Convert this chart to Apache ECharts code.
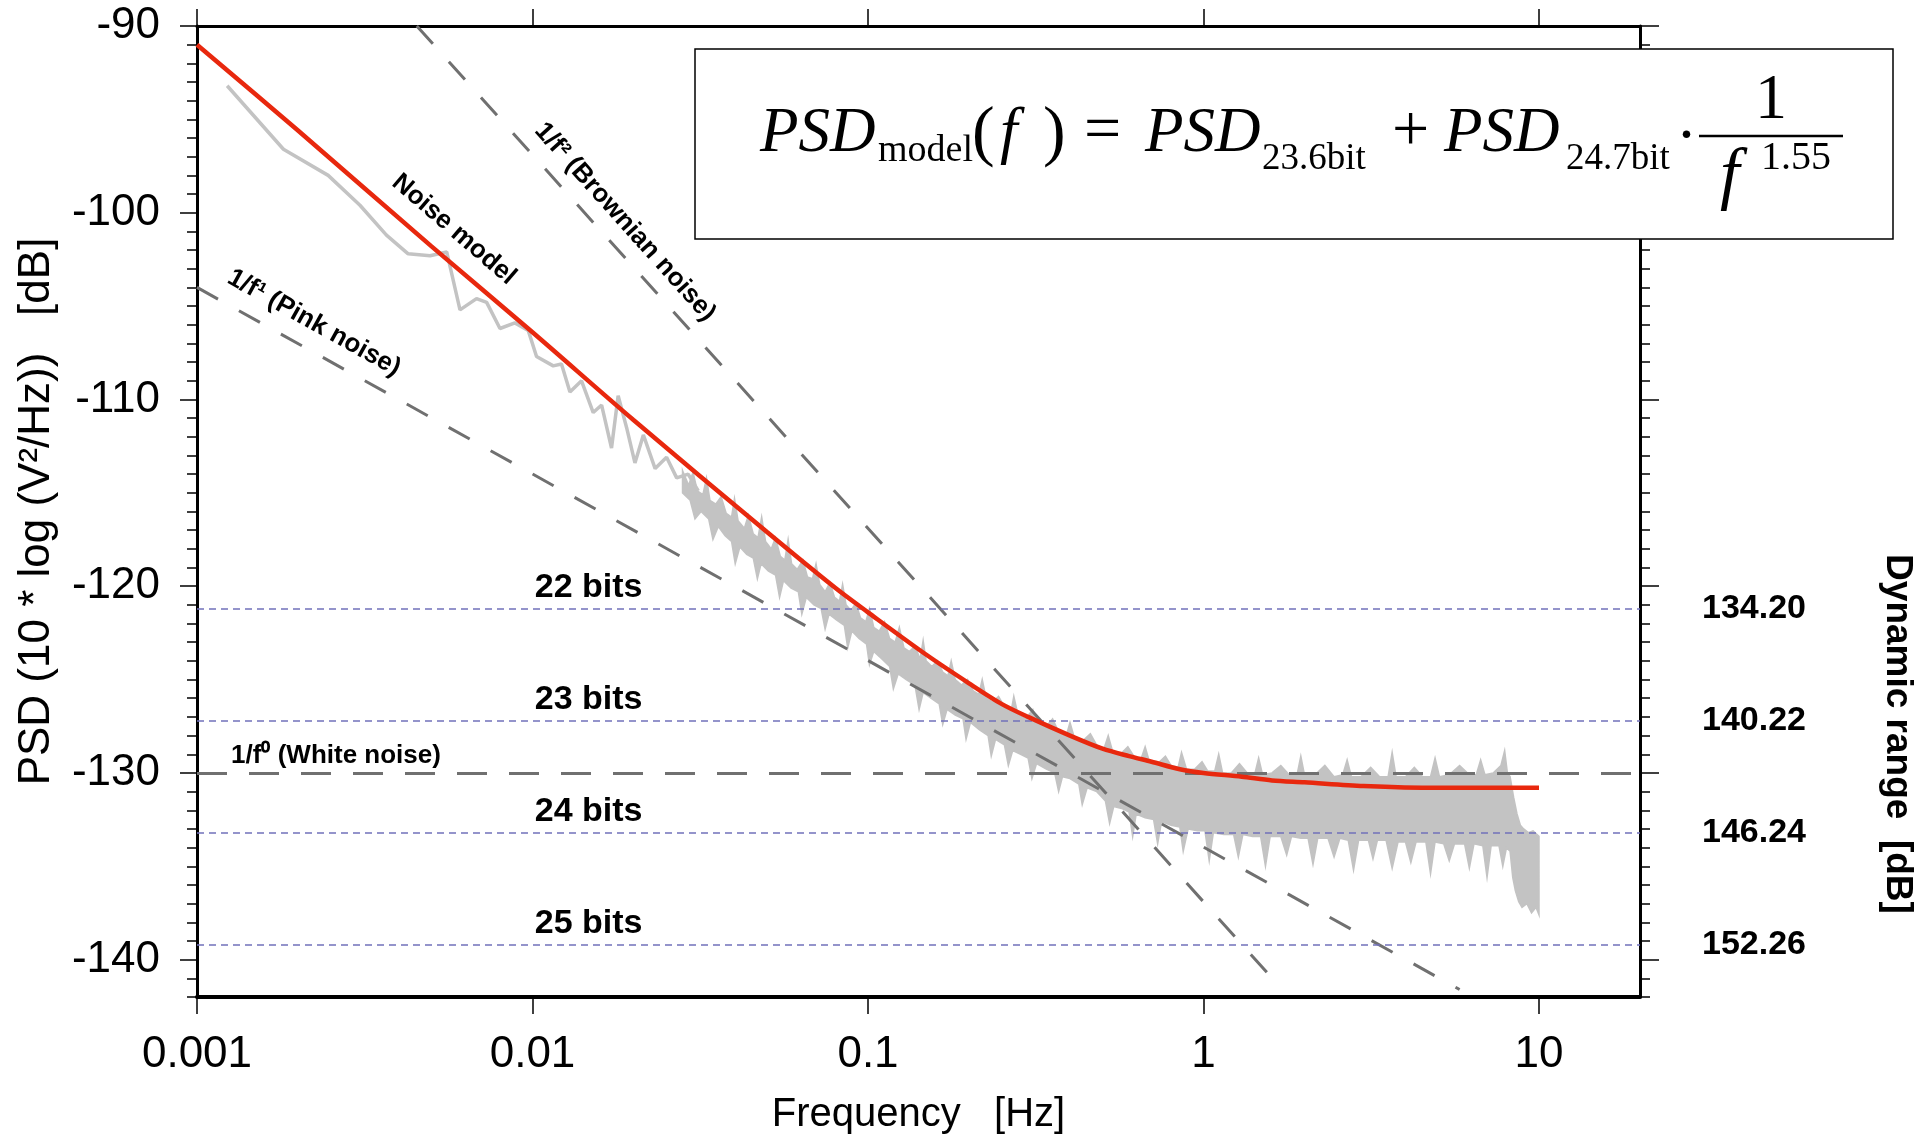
<!DOCTYPE html>
<html>
<head>
<meta charset="utf-8">
<script src="https://cdn.jsdelivr.net/npm/echarts@6/dist/echarts.min.js"></script>
<style>
html,body{margin:0;padding:0;background:#ffffff;}
#chart{width:1931px;height:1136px;}
</style>
</head>
<body>
<div id="chart"></div>
<script>
// ---------------- data ----------------
const xTickValues = [0.001, 0.01, 0.1, 1, 10];
const xTickLabels = ['0.001', '0.01', '0.1', '1', '10'];
const yTickValues = [-90, -100, -110, -120, -130, -140];
const yTickLabels = ['-90', '-100', '-110', '-120', '-130', '-140'];

const bitCounts = [22, 23, 24, 25];
const bitLevels = [-121.2, -127.2, -133.2, -139.2];
const dynamicRange = ['134.20', '140.22', '146.24', '152.26'];
const bitLabelFreq = 0.0147;

const whiteNoiseLevel = -130;
const pinkLine = [[0.001, -104.0], [5.8, -141.6]];
const brownLine = [[0.00452, -90.0], [1.64, -141.2]];

// noise model (red curve)
const modelFreq = [0.001, 0.002, 0.005, 0.01, 0.02, 0.05, 0.08, 0.1, 0.15, 0.2, 0.25, 0.3, 0.4, 0.5, 0.6, 0.7, 0.85, 1, 1.3, 1.6, 2, 3, 5, 7, 10];
const modelPsd  = [-91.0, -95.6, -101.8, -106.4, -111.1, -117.1, -120.1, -121.4, -123.7, -125.2, -126.3, -127.0, -128.0, -128.7, -129.1, -129.4, -129.8, -130.0, -130.2, -130.4, -130.5, -130.7, -130.8, -130.8, -130.8];

// measured PSD, low-frequency part (single trace)
const traceFreq = [0.00123, 0.00181, 0.00246, 0.00306, 0.00367, 0.00426, 0.00495, 0.00555, 0.00608, 0.00681, 0.0073, 0.0080, 0.00886, 0.00971, 0.01028, 0.01153, 0.0122, 0.01293, 0.0140, 0.01517, 0.01607, 0.0172, 0.0180, 0.01907, 0.0202, 0.0214, 0.0232, 0.0251, 0.0269, 0.0291, 0.0312];
const tracePsd  = [-93.2, -96.6, -98.0, -99.6, -101.2, -102.2, -102.3, -102.1, -105.2, -104.6, -104.8, -106.2, -105.9, -106.3, -107.7, -108.2, -108.1, -109.6, -109.0, -110.7, -110.3, -112.6, -109.8, -111.5, -113.4, -111.9, -113.7, -113.1, -114.2, -114.0, -114.9];

// measured PSD, dense part: upper edge of the grey band
const topFreq = [0.028, 0.0292, 0.0301, 0.0310, 0.0322, 0.0330, 0.0338, 0.0352, 0.0365, 0.0378, 0.0392, 0.0400, 0.0410, 0.0428, 0.0440, 0.0455, 0.0470, 0.0482, 0.0495, 0.0515, 0.0530, 0.0548, 0.0565, 0.0578, 0.0592, 0.0615, 0.0640, 0.0660, 0.0683, 0.0700, 0.0718, 0.0745, 0.0770, 0.0795, 0.0822, 0.0840, 0.0860, 0.0890, 0.0920, 0.0950, 0.0985, 0.1010, 0.1040, 0.1080, 0.1120, 0.1160, 0.1205, 0.1240, 0.1280, 0.1330, 0.1380, 0.1430, 0.1460, 0.1490, 0.1550, 0.1610, 0.1670, 0.1730, 0.1770, 0.1820, 0.1900, 0.1980, 0.2060, 0.2140, 0.2190, 0.2250, 0.2350, 0.2450, 0.2560, 0.2670, 0.2720, 0.2800, 0.2950, 0.3100, 0.3200, 0.3400, 0.3550, 0.3700, 0.3900, 0.4000, 0.4120, 0.4350, 0.4600, 0.4800, 0.5050, 0.5200, 0.5350, 0.5650, 0.5950, 0.6200, 0.6500, 0.6700, 0.6900, 0.7300, 0.7700, 0.8000, 0.8400, 0.8600, 0.8900, 0.9400, 0.9900, 1.030, 1.080, 1.110, 1.140, 1.210, 1.280, 1.350, 1.420, 1.460, 1.500, 1.600, 1.700, 1.800, 1.900, 1.950, 2.000, 2.150, 2.300, 2.450, 2.600, 2.680, 2.760, 2.950, 3.150, 3.350, 3.550, 3.650, 3.750, 4.000, 4.250, 4.500, 4.750, 4.900, 5.050, 5.400, 5.800, 6.200, 6.500, 6.700, 6.900, 7.300, 7.700, 7.900, 8.050, 8.200, 8.400, 8.600, 8.800, 9.000, 9.300, 9.600, 10.00];
const topPsd  = [-113.8, -114.6, -113.9, -114.9, -115.1, -114.2, -115.4, -115.6, -115.2, -116.1, -116.3, -115.3, -116.5, -116.9, -116.2, -117.2, -117.4, -116.3, -117.6, -118.0, -117.4, -118.4, -118.6, -117.5, -118.8, -119.1, -118.6, -119.5, -119.6, -118.8, -119.9, -120.3, -119.8, -120.6, -120.8, -119.9, -121.0, -121.3, -120.9, -121.7, -121.9, -121.2, -122.2, -122.4, -121.9, -122.8, -123.0, -122.2, -123.3, -123.5, -123.2, -123.9, -122.9, -124.0, -124.3, -124.0, -124.6, -124.8, -124.0, -125.0, -125.3, -125.0, -125.6, -125.8, -125.0, -126.0, -126.2, -125.9, -126.5, -126.7, -125.9, -126.9, -127.1, -126.6, -127.3, -127.5, -127.1, -127.8, -128.0, -127.3, -128.1, -128.3, -127.9, -128.5, -128.7, -128.0, -128.8, -129.0, -128.6, -129.1, -129.3, -128.6, -129.4, -129.5, -129.1, -129.6, -129.7, -128.9, -129.8, -129.8, -129.4, -129.9, -129.9, -129.0, -130.0, -130.0, -129.5, -130.0, -130.1, -129.2, -130.1, -130.0, -129.6, -130.1, -130.1, -129.1, -130.1, -130.1, -129.6, -130.2, -130.1, -129.3, -130.2, -130.2, -129.7, -130.2, -130.2, -128.9, -130.2, -130.2, -129.7, -130.2, -130.2, -129.2, -130.2, -130.1, -129.6, -130.1, -130.1, -129.3, -130.1, -130.0, -129.6, -128.8, -130.0, -130.2, -131.3, -132.2, -132.8, -133.0, -133.2, -133.1, -133.4];
// lower edge of the grey band
const botFreq = [0.028, 0.0295, 0.0305, 0.0318, 0.0335, 0.0345, 0.0358, 0.0375, 0.0392, 0.0402, 0.0415, 0.0435, 0.0455, 0.0468, 0.0480, 0.0505, 0.0530, 0.0545, 0.0560, 0.0590, 0.0620, 0.0635, 0.0655, 0.0690, 0.0725, 0.0745, 0.0765, 0.0805, 0.0850, 0.0870, 0.0895, 0.0940, 0.0990, 0.1010, 0.1040, 0.1100, 0.1160, 0.1190, 0.1230, 0.1300, 0.1380, 0.1420, 0.1460, 0.1540, 0.1630, 0.1670, 0.1720, 0.1820, 0.1920, 0.1960, 0.2020, 0.2150, 0.2280, 0.2330, 0.2400, 0.2550, 0.2620, 0.2700, 0.2850, 0.3000, 0.3080, 0.3180, 0.3400, 0.3600, 0.3700, 0.3800, 0.4000, 0.4250, 0.4350, 0.4500, 0.4800, 0.5100, 0.5250, 0.5400, 0.5700, 0.6000, 0.6150, 0.6300, 0.6700, 0.7100, 0.7300, 0.7500, 0.8000, 0.8500, 0.8700, 0.9000, 0.9600, 1.010, 1.040, 1.070, 1.150, 1.230, 1.270, 1.310, 1.400, 1.480, 1.530, 1.580, 1.700, 1.770, 1.830, 1.950, 2.050, 2.120, 2.190, 2.350, 2.450, 2.550, 2.700, 2.800, 2.900, 3.100, 3.200, 3.300, 3.500, 3.650, 3.800, 4.000, 4.150, 4.300, 4.600, 4.750, 4.900, 5.200, 5.400, 5.600, 6.000, 6.200, 6.400, 6.800, 7.000, 7.200, 7.600, 7.800, 8.000, 8.200, 8.350, 8.500, 8.700, 8.900, 9.200, 9.500, 9.800, 10.00];
const botPsd  = [-115.0, -115.4, -116.4, -116.0, -116.4, -117.5, -116.8, -117.3, -117.6, -118.8, -117.9, -118.3, -118.5, -119.6, -118.8, -119.2, -119.4, -120.6, -119.7, -120.1, -120.3, -121.5, -120.6, -121.0, -121.2, -122.3, -121.5, -121.8, -122.1, -123.3, -122.4, -122.8, -123.1, -124.2, -123.5, -123.9, -124.3, -125.5, -124.7, -125.0, -125.3, -126.6, -125.7, -126.0, -126.3, -127.4, -126.6, -126.9, -127.1, -128.2, -127.3, -127.7, -128.0, -129.1, -128.2, -128.5, -129.6, -128.8, -129.0, -129.2, -130.3, -129.5, -129.8, -130.0, -131.0, -130.2, -130.3, -130.6, -131.7, -130.8, -131.0, -131.5, -132.7, -131.8, -131.9, -132.1, -133.4, -132.2, -132.4, -132.5, -133.8, -132.6, -132.8, -132.9, -134.2, -133.0, -133.1, -133.1, -134.7, -133.2, -133.3, -133.3, -134.5, -133.3, -133.4, -133.4, -135.0, -133.4, -133.4, -134.4, -133.4, -133.5, -133.5, -134.9, -133.5, -133.5, -134.5, -133.5, -133.6, -135.2, -133.6, -133.6, -134.6, -133.6, -133.6, -135.1, -133.7, -133.7, -134.8, -133.7, -133.7, -135.4, -133.7, -133.8, -134.7, -133.8, -133.8, -135.1, -133.8, -133.9, -135.6, -133.9, -133.9, -135.0, -134.0, -134.2, -135.6, -136.3, -136.9, -137.2, -137.0, -137.5, -137.2, -137.6];

// annotations along the lines
const annotTexts = ['Noise model', '1/f\u00B2 (Brownian noise)', '1/f\u00B9 (Pink noise)', '1/f\u2070 (White noise)'];
const annotFreq  = [0.00583, 0.01887, 0.002232, 0.002596];
const annotPsd   = [-100.9, -100.5, -105.9, -129.1];
const annotAngle = [-40.8, -48.1, -29.2, 0];

// ---------------- chart ----------------
const SANS = 'Liberation Sans, Arial, Helvetica, sans-serif';
const SERIF = 'Liberation Serif, Times New Roman, serif';
const Y_MIN = -142, Y_MAX = -90, X_MIN = 0.001, X_MAX = 20;

function zip(a, b) { return a.map((v, i) => [v, b[i]]); }
function nearestIdx(arr, v) {
  let best = 0;
  arr.forEach((a, i) => { if (Math.abs(a - v) < Math.abs(arr[best] - v)) best = i; });
  return best;
}

const chart = echarts.init(document.getElementById('chart'), null, { renderer: 'canvas' });

// formula pieces: text, x, baseline, size, italic, align
const formula = [
  ['PSD', 760, 156, 63, true, 'left'],
  ['model', 878, 164, 38, false, 'left'],
  ['(', 972, 158, 68, false, 'left'],
  ['f', 1000, 156, 63, true, 'left'],
  [')', 1043, 158, 68, false, 'left'],
  ['=', 1084, 155, 66, false, 'left'],
  ['PSD', 1145, 156, 63, true, 'left'],
  ['23.6bit', 1262, 172, 37, false, 'left'],
  ['+', 1392, 155, 66, false, 'left'],
  ['PSD', 1444, 156, 63, true, 'left'],
  ['24.7bit', 1566, 172, 37, false, 'left'],
  ['\u00B7', 1676, 160, 63, false, 'left'],
  ['1', 1771, 123, 64, false, 'center'],
  ['f', 1720, 201, 70, true, 'left'],
  ['1.55', 1761, 172, 40, false, 'left']
];
const graphicEls = [
  { type: 'rect', z: 100, shape: { x: 695, y: 49, width: 1198, height: 190 },
    style: { fill: '#ffffff', stroke: '#000000', lineWidth: 1.5 } },
  { type: 'line', z: 101, shape: { x1: 1699, y1: 136, x2: 1843, y2: 136 },
    style: { stroke: '#000000', lineWidth: 2.5 } },
  { type: 'text', z: 50, x: 1897, y: 734, rotation: -Math.PI / 2,
    style: { text: 'Dynamic range  [dB]', fontSize: 37, fontWeight: 'bold', fontFamily: SANS, fill: '#000',
             align: 'center', verticalAlign: 'middle' } }
];
formula.forEach(p => {
  graphicEls.push({
    type: 'text', z: 101, x: p[1], y: p[2] - 0.3375 * p[3],
    style: { text: p[0], fontSize: p[3], fontFamily: SERIF, fontStyle: p[4] ? 'italic' : 'normal',
             fill: '#000', align: p[5], verticalAlign: 'middle' }
  });
});

const option = {
  animation: false,
  backgroundColor: '#ffffff',
  grid: { left: 197, right: 291, top: 26, bottom: 139, containLabel: false, outerBoundsMode: 'none' },
  xAxis: [
    {
      type: 'log', logBase: 10, min: X_MIN, max: X_MAX, position: 'bottom',
      axisLine: { show: true, onZero: false, lineStyle: { color: '#000', width: 4 } },
      axisTick: { show: true, inside: false, length: 17, customValues: xTickValues, lineStyle: { color: '#000', width: 1.5 } },
      axisLabel: { show: true, customValues: xTickValues, margin: 36, fontSize: 44, color: '#000', fontFamily: SANS,
                   formatter: v => xTickLabels[nearestIdx(xTickValues, v)] },
      splitLine: { show: false }, minorTick: { show: false },
      name: 'Frequency   [Hz]', nameLocation: 'middle', nameGap: 98,
      nameTextStyle: { fontSize: 40, color: '#000', fontFamily: SANS }
    },
    {
      type: 'log', logBase: 10, min: X_MIN, max: X_MAX, position: 'top',
      axisLine: { show: true, onZero: false, lineStyle: { color: '#000', width: 3 } },
      axisTick: { show: true, inside: false, length: 17, customValues: xTickValues, lineStyle: { color: '#000', width: 1.5 } },
      axisLabel: { show: false }, splitLine: { show: false }
    }
  ],
  yAxis: [
    {
      type: 'value', min: Y_MIN, max: Y_MAX, position: 'left',
      axisLine: { show: true, onZero: false, lineStyle: { color: '#000', width: 3 } },
      axisTick: { show: true, inside: false, length: 17, customValues: yTickValues, lineStyle: { color: '#000', width: 1.5 } },
      axisLabel: { show: true, customValues: yTickValues, margin: 37, fontSize: 44, color: '#000', fontFamily: SANS,
                   formatter: v => yTickLabels[nearestIdx(yTickValues, v)] },
      splitLine: { show: false },
      name: 'PSD (10 * log (V\u00B2/Hz))   [dB]', nameLocation: 'middle', nameGap: 138,
      nameTextStyle: { fontSize: 44, color: '#000', fontFamily: SANS }
    },
    {
      type: 'value', min: Y_MIN, max: Y_MAX, interval: 1, position: 'left',
      axisLine: { show: false }, axisLabel: { show: false }, splitLine: { show: false },
      axisTick: { show: true, inside: false, length: 10, lineStyle: { color: '#000', width: 1.5 } }
    },
    {
      type: 'value', min: Y_MIN, max: Y_MAX, position: 'right',
      axisLine: { show: true, onZero: false, lineStyle: { color: '#000', width: 3 } },
      axisTick: { show: true, inside: false, length: 19, customValues: yTickValues, lineStyle: { color: '#000', width: 1.5 } },
      axisLabel: { show: true, customValues: bitLevels, margin: 62, fontSize: 34, fontWeight: 'bold', color: '#000', fontFamily: SANS,
                   formatter: v => dynamicRange[nearestIdx(bitLevels, v)] },
      splitLine: { show: false }
    },
    {
      type: 'value', min: Y_MIN, max: Y_MAX, interval: 1, position: 'right',
      axisLine: { show: false }, axisLabel: { show: false }, splitLine: { show: false },
      axisTick: { show: true, inside: false, length: 10, lineStyle: { color: '#000', width: 1.5 } }
    }
  ],
  graphic: graphicEls,
  series: [
    {
      name: 'band', type: 'custom', xAxisIndex: 0, yAxisIndex: 0, z: 1, silent: true,
      data: [[1, -130]],
      renderItem: function (params, api) {
        const pts = [];
        for (let i = 0; i < topFreq.length; i++) pts.push(api.coord([topFreq[i], topPsd[i]]));
        for (let i = botFreq.length - 1; i >= 0; i--) pts.push(api.coord([botFreq[i], botPsd[i]]));
        return { type: 'polygon', shape: { points: pts },
                 style: { fill: '#c3c3c3', stroke: '#c3c3c3', lineWidth: 1.5, lineJoin: 'miter' } };
      }
    },
    {
      name: 'trace', type: 'line', xAxisIndex: 0, yAxisIndex: 0, z: 1, silent: true,
      data: zip(traceFreq, tracePsd), showSymbol: false, symbol: 'none',
      lineStyle: { color: '#c3c3c3', width: 3.5 }
    },
    {
      name: 'white', type: 'line', xAxisIndex: 0, yAxisIndex: 0, z: 3, silent: true, data: [],
      markLine: {
        silent: true, symbol: 'none', label: { show: false },
        lineStyle: { color: '#707070', width: 3, type: [30, 22] },
        data: [{ yAxis: whiteNoiseLevel }]
      }
    },
    {
      name: 'bits', type: 'line', xAxisIndex: 0, yAxisIndex: 0, z: 3, silent: true, data: [],
      markLine: {
        silent: true, symbol: 'none', label: { show: false },
        lineStyle: { color: '#7272ba', width: 1.5, type: [7, 5] },
        data: bitLevels.map(v => ({ yAxis: v }))
      }
    },
    {
      name: 'pink', type: 'line', xAxisIndex: 0, yAxisIndex: 0, z: 3, silent: true,
      data: pinkLine, showSymbol: false, symbol: 'none',
      lineStyle: { color: '#707070', width: 3, type: [24, 24] }
    },
    {
      name: 'brown', type: 'line', xAxisIndex: 0, yAxisIndex: 0, z: 3, silent: true,
      data: brownLine, showSymbol: false, symbol: 'none',
      lineStyle: { color: '#707070', width: 3, type: [24, 24] }
    },
    {
      name: 'model', type: 'line', xAxisIndex: 0, yAxisIndex: 0, z: 5, silent: true,
      data: zip(modelFreq, modelPsd), showSymbol: false, symbol: 'none', smooth: 0.3,
      lineStyle: { color: '#e8280e', width: 4.5 }
    },
    {
      name: 'annot', type: 'custom', xAxisIndex: 0, yAxisIndex: 0, z: 6, silent: true,
      data: annotFreq.map((f, i) => [f, annotPsd[i]]),
      renderItem: function (params, api) {
        const i = params.dataIndex;
        const p = api.coord([api.value(0), api.value(1)]);
        return {
          type: 'text', x: p[0], y: p[1], rotation: annotAngle[i] * Math.PI / 180,
          style: { text: annotTexts[i], fill: '#000', fontFamily: SANS, fontWeight: 'bold', fontSize: 26,
                   align: 'center', verticalAlign: 'middle' }
        };
      }
    },
    {
      name: 'bitLabels', type: 'custom', xAxisIndex: 0, yAxisIndex: 0, z: 6, silent: true,
      data: bitLevels.map(v => [bitLabelFreq, v]),
      renderItem: function (params, api) {
        const i = params.dataIndex;
        const p = api.coord([api.value(0), api.value(1)]);
        return {
          type: 'text', x: p[0], y: p[1] - 21,
          style: { text: bitCounts[i] + ' bits', fill: '#000', fontFamily: SANS, fontWeight: 'bold', fontSize: 34,
                   align: 'center', verticalAlign: 'middle' }
        };
      }
    }
  ]
};
chart.setOption(option);
</script>
</body>
</html>
